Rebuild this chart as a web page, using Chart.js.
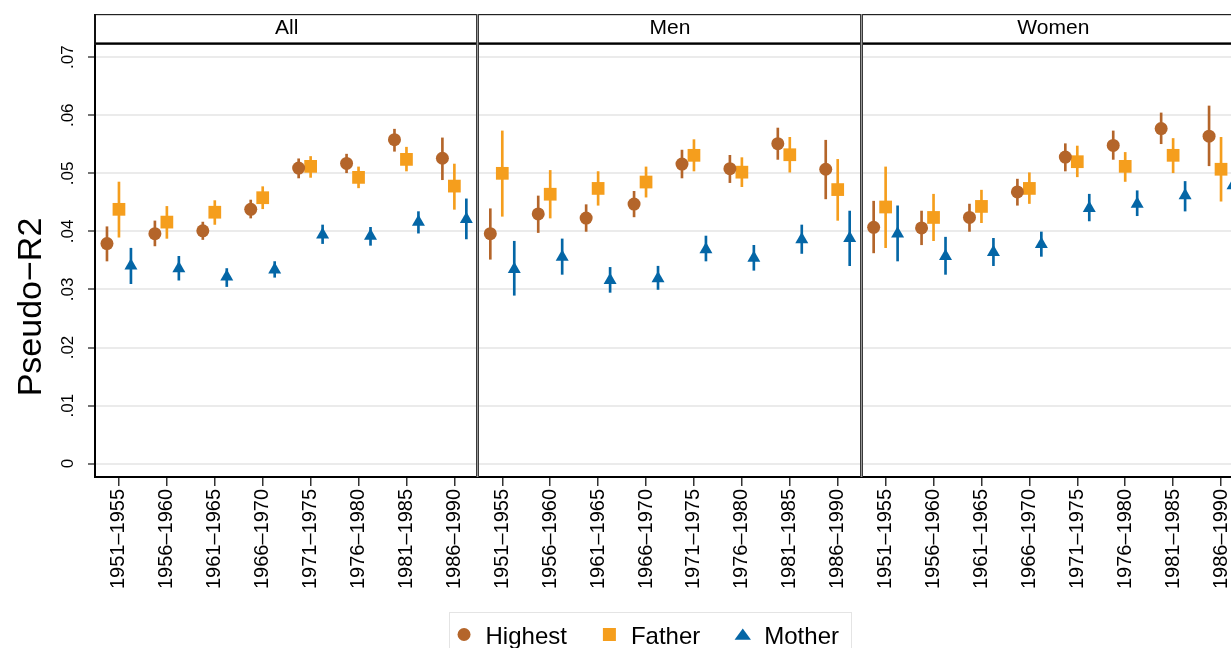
<!DOCTYPE html>
<html>
<head>
<meta charset="utf-8">
<script src="https://cdn.jsdelivr.net/npm/chart.js@4.4.1/dist/chart.umd.min.js"></script>
<style>
  html, body { margin: 0; padding: 0; background: #fff; overflow: hidden; }
  #wrap { width: 1300px; height: 648px; }
</style>
</head>
<body>
<div id="wrap"><canvas id="facetChart" width="1300" height="648"></canvas></div>
<script>
//data
const cohorts = ["1951–1955", "1956–1960", "1961–1965", "1966–1970", "1971–1975", "1976–1980", "1981–1985", "1986–1990"]
const panels = ["All", "Men", "Women"]
const seriesNames = ["Highest", "Father", "Mother"]
const yTicks = [0, 0.01, 0.02, 0.03, 0.04, 0.05, 0.06, 0.07]
const yTickLabels = ["0", ".01", ".02", ".03", ".04", ".05", ".06", ".07"]

// estimate + CI bounds, panels one after the other: All, Men, Women
const highest = [
  0.0379, 0.0396, 0.0401, 0.0438, 0.0509, 0.0517, 0.0558, 0.0526,
  0.0396, 0.0430, 0.0423, 0.0447, 0.0516, 0.0508, 0.0551, 0.0507,
  0.0407, 0.0406, 0.0424, 0.0468, 0.0528, 0.0548, 0.0577, 0.0564]
const highestLo = [
  0.0349, 0.0375, 0.0386, 0.0423, 0.0492, 0.0501, 0.0538, 0.0489,
  0.0352, 0.0398, 0.0400, 0.0425, 0.0492, 0.0484, 0.0524, 0.0456,
  0.0363, 0.0377, 0.0400, 0.0445, 0.0504, 0.0524, 0.0551, 0.0513]
const highestHi = [
  0.0408, 0.0418, 0.0416, 0.0454, 0.0525, 0.0533, 0.0576, 0.0561,
  0.0439, 0.0461, 0.0446, 0.0469, 0.0540, 0.0531, 0.0578, 0.0557,
  0.0452, 0.0435, 0.0447, 0.0490, 0.0551, 0.0573, 0.0604, 0.0616]
const father = [
  0.0438, 0.0416, 0.0433, 0.0458, 0.0512, 0.0493, 0.0524, 0.0478,
  0.0500, 0.0464, 0.0474, 0.0485, 0.0531, 0.0502, 0.0532, 0.0472,
  0.0442, 0.0424, 0.0443, 0.0474, 0.0520, 0.0512, 0.0531, 0.0507]
const fatherLo = [
  0.0390, 0.0388, 0.0412, 0.0439, 0.0493, 0.0475, 0.0504, 0.0438,
  0.0426, 0.0423, 0.0445, 0.0459, 0.0504, 0.0477, 0.0502, 0.0419,
  0.0372, 0.0384, 0.0415, 0.0448, 0.0494, 0.0486, 0.0501, 0.0452]
const fatherHi = [
  0.0485, 0.0443, 0.0453, 0.0477, 0.0529, 0.0511, 0.0545, 0.0516,
  0.0573, 0.0505, 0.0503, 0.0511, 0.0558, 0.0527, 0.0562, 0.0524,
  0.0511, 0.0464, 0.0471, 0.0501, 0.0547, 0.0536, 0.0560, 0.0562]
const mother = [
  0.0341, 0.0336, 0.0322, 0.0334, 0.0394, 0.0392, 0.0416, 0.0421,
  0.0335, 0.0356, 0.0316, 0.0319, 0.0369, 0.0354, 0.0386, 0.0388,
  0.0396, 0.0357, 0.0364, 0.0378, 0.0440, 0.0447, 0.0462, 0.0479]
const motherLo = [
  0.0310, 0.0316, 0.0305, 0.0321, 0.0379, 0.0376, 0.0397, 0.0387,
  0.0290, 0.0326, 0.0295, 0.0300, 0.0349, 0.0333, 0.0362, 0.0341,
  0.0349, 0.0326, 0.0341, 0.0357, 0.0418, 0.0427, 0.0435, 0.0430]
const motherHi = [
  0.0371, 0.0357, 0.0336, 0.0348, 0.0411, 0.0407, 0.0434, 0.0456,
  0.0383, 0.0387, 0.0338, 0.0340, 0.0392, 0.0376, 0.0411, 0.0435,
  0.0444, 0.0390, 0.0388, 0.0399, 0.0464, 0.0470, 0.0486, 0.0531]

//style
const FONT = "'Liberation Sans', Arial, Helvetica, sans-serif"
const colors = ["#b4652a", "#f59e1d", "#0466a6"]
const shapes = ["circle", "rect", "triangle"]
const radii = [6.5, 9, 7.5]
const shift = [-0.25, 0, 0.25]
const PANEL_SPAN = cohorts.length

const estimates = [highest, father, mother]
const lows = [highestLo, fatherLo, motherLo]
const highs = [highestHi, fatherHi, motherHi]

// x position of cohort k (0..23) for series s
function xPos(k, s) {
  const p = Math.floor(k / cohorts.length)
  const i = k % cohorts.length
  return p * PANEL_SPAN + 0.5 + i + shift[s]
}

const datasets = []
seriesNames.forEach((name, s) => {
  datasets.push({
    type: "bar",
    label: name + " CI",
    data: lows[s].map((lo, k) => ({ x: xPos(k, s), y: [lo, highs[s][k]] })),
    backgroundColor: colors[s],
    barThickness: 2,
    grouped: false,
    borderWidth: 0,
    order: 2,
  })
  datasets.push({
    type: "scatter",
    label: name,
    data: estimates[s].map((v, k) => ({ x: xPos(k, s), y: v })),
    pointStyle: shapes[s],
    pointRadius: radii[s],
    backgroundColor: colors[s],
    borderWidth: 0,
    order: 1,
  })
})

// strips, panel dividers, y title and legend
const facetPlugin = {
  id: "facets",
  beforeDraw(chart) {
    const ctx = chart.ctx
    ctx.save()
    ctx.fillStyle = "#fff"
    ctx.fillRect(0, 0, chart.width, chart.height)
    ctx.restore()
  },
  afterDraw(chart) {
    const { ctx, chartArea } = chart
    const x = chart.scales.x
    ctx.save()

    const stripTop = 14
    panels.forEach((name, p) => {
      const left = x.getPixelForValue(p * PANEL_SPAN)
      const right = x.getPixelForValue((p + 1) * PANEL_SPAN)
      ctx.fillStyle = "#222"
      ctx.fillRect(left, stripTop, right - left, 1.2)
      ctx.fillStyle = "#000"
      ctx.fillRect(left, 42.4, right - left, 2.4)
      ctx.font = "21px " + FONT
      ctx.textAlign = "center"
      ctx.textBaseline = "alphabetic"
      ctx.fillText(name, (left + right) / 2, 33.5)
      if (p === 0) {
        ctx.fillStyle = "#111"
        ctx.fillRect(left - 1, stripTop, 2, chartArea.top - stripTop)
      } else {
        const px = Math.round(left)
        ctx.fillStyle = "#3a3a3a"
        ctx.fillRect(px - 2, stripTop, 1, chartArea.bottom - stripTop)
        ctx.fillRect(px, stripTop, 1, chartArea.bottom - stripTop)
        ctx.fillStyle = "#999"
        ctx.fillRect(px - 1, stripTop, 1, chartArea.bottom - stripTop)
      }
    })

    // y title
    ctx.fillStyle = "#000"
    ctx.font = "34px " + FONT
    ctx.translate(41, 307)
    ctx.rotate(-Math.PI / 2)
    ctx.textAlign = "center"
    ctx.textBaseline = "alphabetic"
    ctx.fillText("Pseudo−R2", 0, 0)
    ctx.setTransform(1, 0, 0, 1, 0, 0)

    // legend
    ctx.font = "24px " + FONT
    const markerW = 14
    const textGap = 14.5
    const itemGap = 35.5
    const padLeft = 8
    const padRight = 12
    const widths = seriesNames.map(n => ctx.measureText(n).width)
    let total = 0
    widths.forEach((w, i) => { total += markerW + textGap + w + (i < widths.length - 1 ? itemGap : 0) })
    const boxW = total + padLeft + padRight
    const boxLeft = chart.width / 2 - boxW / 2
    const boxTop = 612.5
    ctx.strokeStyle = "#e4e4e4"
    ctx.lineWidth = 1
    ctx.strokeRect(Math.round(boxLeft) + 0.5, boxTop, Math.round(boxW), 60)
    let cx = boxLeft + padLeft
    const my = 634.5
    seriesNames.forEach((n, s) => {
      const mc = cx + markerW / 2
      ctx.fillStyle = colors[s]
      ctx.beginPath()
      if (shapes[s] === "circle") {
        ctx.arc(mc, my, 6.5, 0, Math.PI * 2)
      } else if (shapes[s] === "rect") {
        ctx.rect(mc - 6.5, my - 6.5, 13, 13)
      } else {
        ctx.moveTo(mc, my - 6)
        ctx.lineTo(mc + 8.2, my + 5.2)
        ctx.lineTo(mc - 8.2, my + 5.2)
        ctx.closePath()
      }
      ctx.fill()
      ctx.fillStyle = "#000"
      ctx.textAlign = "left"
      ctx.textBaseline = "alphabetic"
      ctx.fillText(n, cx + markerW + textGap, 643.5)
      cx += markerW + textGap + widths[s] + itemGap
    })
    ctx.restore()
  },
}

//config
const config = {
  type: "scatter",
  data: { datasets: datasets },
  options: {
    responsive: false,
    animation: false,
    events: [],
    layout: { padding: { left: 0, right: 55, top: 45, bottom: 0 } },
    plugins: {
      legend: { display: false },
      tooltip: { enabled: false },
      title: { display: false },
    },
    scales: {
      x: {
        type: "linear",
        min: 0,
        max: PANEL_SPAN * panels.length,
        offset: false,
        afterBuildTicks: scale => {
          const ticks = []
          panels.forEach((p, pi) => cohorts.forEach((c, i) => ticks.push({ value: pi * PANEL_SPAN + 0.5 + i })))
          scale.ticks = ticks
        },
        afterFit: scale => { scale.height = 171 },
        ticks: {
          autoSkip: false,
          minRotation: 90,
          maxRotation: 90,
          padding: 3,
          color: "#000",
          font: { family: FONT, size: 20 },
          callback: (value, index) => cohorts[index % cohorts.length],
        },
        grid: { offset: false, drawOnChartArea: false, drawTicks: true, tickLength: 9, tickColor: "#333", lineWidth: 1.5 },
        border: { display: true, color: "#000", width: 2 },
      },
      y: {
        type: "linear",
        min: -0.0023,
        max: 0.0721,
        afterBuildTicks: scale => { scale.ticks = yTicks.map(v => ({ value: v })) },
        afterFit: scale => { scale.width = 95 },
        ticks: {
          minRotation: 90,
          maxRotation: 90,
          crossAlign: "center",
          padding: 8,
          color: "#000",
          font: { family: FONT, size: 17 },
          callback: (value, index) => yTickLabels[index],
        },
        grid: { color: "#ebebeb", lineWidth: 2, tickLength: 7, tickColor: "#444", tickWidth: 1.5 },
        border: { display: true, color: "#000", width: 2 },
      },
    },
  },
  plugins: [facetPlugin],
}

const myChart = new Chart(document.getElementById("facetChart"), config)
</script>
</body>
</html>
